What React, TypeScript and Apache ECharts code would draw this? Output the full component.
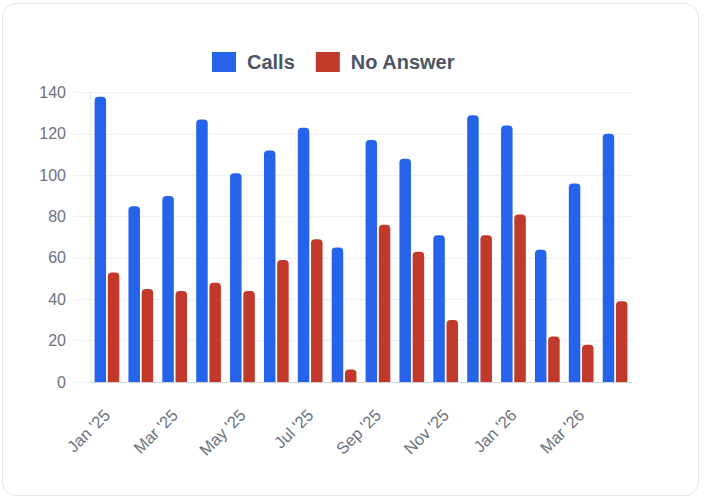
import React, { useEffect, useRef } from "react";
import * as echarts from "echarts";

const months = [
  "Jan '25", "Feb '25", "Mar '25", "Apr '25", "May '25", "Jun '25", "Jul '25", "Aug '25",
  "Sep '25", "Oct '25", "Nov '25", "Dec '25", "Jan '26", "Feb '26", "Mar '26", "Apr '26",
];
const calls = [138, 85, 90, 127, 101, 112, 123, 65, 117, 108, 71, 129, 124, 64, 96, 120];
const noAnswer = [53, 45, 44, 48, 44, 59, 69, 6, 76, 63, 30, 71, 81, 22, 18, 39];
const seriesNames = ["Calls", "No Answer"];

const FONT = "'Liberation Sans', Arial, Helvetica, sans-serif";

export default function App() {
  const ref = useRef<HTMLDivElement>(null);
  useEffect(() => {
    if (!ref.current) return;
    const chart = echarts.init(ref.current, undefined, { renderer: "svg" });
    chart.setOption({
      animation: false,
      textStyle: { fontFamily: FONT },
      legend: {
        left: 207,
        top: 47,
        itemWidth: 24,
        itemHeight: 20,
        itemGap: 21,
        icon: "rect",
        textStyle: {
          fontFamily: FONT,
          fontSize: 20,
          fontWeight: "bold",
          color: "#4b5563",
          padding: [0, 0, 0, 6],
        },
        data: seriesNames,
      },
      grid: { left: 90, right: 72, top: 92.5, bottom: 118, containLabel: false },
      xAxis: {
        type: "category",
        data: months,
        axisLine: { lineStyle: { color: "#d1d5db" } },
        axisTick: { show: false },
        axisLabel: {
          interval: 1,
          rotate: 45,
          fontSize: 16.5,
          color: "#6b7280",
          fontFamily: FONT,
          margin: 30,
        },
      },
      yAxis: {
        type: "value",
        min: 0,
        max: 140,
        interval: 20,
        axisLine: { show: true, lineStyle: { color: "#e8ecf2" } },
        axisTick: { show: true, length: 16, lineStyle: { color: "#edf1f7" } },
        splitLine: { lineStyle: { color: "#edf1f7" } },
        axisLabel: { fontSize: 16, color: "#6b7280", fontFamily: FONT, margin: 24 },
      },
      series: [
        {
          name: seriesNames[0],
          type: "bar",
          data: calls,
          barGap: "15%",
          barCategoryGap: "27%",
          itemStyle: { color: "#2563eb", borderRadius: [4, 4, 0, 0] },
        },
        {
          name: seriesNames[1],
          type: "bar",
          data: noAnswer,
          itemStyle: { color: "#c0392b", borderRadius: [4, 4, 0, 0] },
        },
      ],
    });
    return () => chart.dispose();
  }, []);
  return (
    <div style={{ position: "fixed", left: 0, top: 0, width: 704, height: 500, background: "#fff" }}>
      <div
        style={{
          position: "absolute",
          left: 2,
          top: 3,
          width: 697,
          height: 493,
          border: "1px solid #e2e6ec",
          borderRadius: 14,
          boxSizing: "border-box",
        }}
      />
      <div ref={ref} style={{ position: "absolute", left: 0, top: 0, width: 704, height: 500 }} />
    </div>
  );
}
